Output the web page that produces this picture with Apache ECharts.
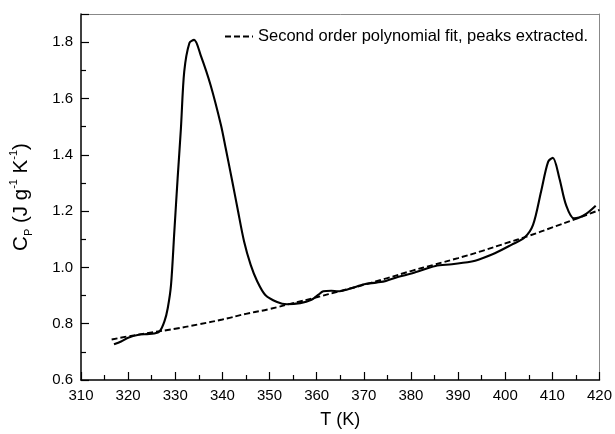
<!DOCTYPE html>
<html><head><meta charset="utf-8">
<script src="https://cdn.jsdelivr.net/npm/echarts@6/dist/echarts.min.js"></script>
<style>html,body{margin:0;padding:0;background:#fff}#c{width:615px;height:434px}</style>
</head><body><div id="c"></div>
<script>
// Measured Cp curve: temperature (K) and Cp (J g^-1 K^-1)
var measuredT = [317.0,318.5,320.0,322.0,324.0,325.5,326.7,327.7,328.4,329.1,329.8,330.5,331.2,331.9,333.0,334.0,335.4,337.5,339.7,340.7,342.1,343.2,344.6,346.0,347.4,349.1,351.6,353.7,356.5,358.9,360.3,361.4,363.1,364.5,367.0,370.1,372.6,374.7,377.2,380.3,385.2,388.7,392.9,394.3,397.8,401.3,404.1,405.9,407.6,409.1,410.1,411.5,412.9,414.6,416.8,419.2];
var measuredCp = [0.727,0.737,0.750,0.760,0.763,0.765,0.773,0.808,0.855,0.938,1.127,1.316,1.494,1.695,1.797,1.808,1.753,1.647,1.505,1.423,1.305,1.210,1.092,1.009,0.950,0.902,0.877,0.869,0.873,0.885,0.902,0.915,0.917,0.915,0.924,0.940,0.946,0.952,0.966,0.979,1.005,1.011,1.021,1.027,1.050,1.080,1.106,1.151,1.269,1.375,1.389,1.316,1.222,1.174,1.186,1.219];
// Second order polynomial baseline (peaks extracted)
var fitT = [316.5,320,325,330,335,340,345,350,355,360,365,370,375,380,385,390,395,400,405,410,415,420];
var fitCp = [0.744,0.755,0.769,0.782,0.798,0.815,0.835,0.852,0.873,0.894,0.916,0.938,0.962,0.987,1.010,1.033,1.058,1.085,1.112,1.142,1.172,1.204];
var xTicks = [310,320,330,340,350,360,370,380,390,400,410,420];
var yTicks = [0.6,0.8,1.0,1.2,1.4,1.6,1.8];
var fitName = 'Second order polynomial fit, peaks extracted.';

function pairs(a,b){return a.map(function(v,i){return [v,b[i]];});}
var FONT = 'Liberation Sans, Arial, sans-serif';
var chart = echarts.init(document.getElementById('c'), null, {renderer:'canvas'});
chart.setOption({
  animation:false,
  backgroundColor:'#fff',
  grid:{left:79,right:13,top:14,bottom:52},
  legend:{
    data:[fitName], left:219, top:23, itemWidth:28, itemHeight:14, itemGap:15,
    itemStyle:{opacity:0},
    textStyle:{fontFamily:FONT,fontSize:16.5,color:'#000'}, selectedMode:false
  },
  xAxis:[{
    type:'value', min:xTicks[0], max:xTicks[xTicks.length-1], interval:10,
    name:'T (K)', nameLocation:'middle', nameGap:31,
    nameTextStyle:{fontFamily:FONT,fontSize:18,color:'#000'},
    axisLine:{show:true,onZero:false,lineStyle:{color:'#000',width:1.5}},
    axisTick:{show:true,inside:true,length:8,lineStyle:{color:'#000',width:1.2}},
    minorTick:{show:true,splitNumber:2,length:5,lineStyle:{color:'#000',width:1.2}},
    axisLabel:{fontFamily:FONT,fontSize:15,color:'#000',margin:8},
    splitLine:{show:false}
  },{
    type:'value', position:'top', min:310, max:420,
    axisLine:{show:true,lineStyle:{color:'#888',width:1}},
    axisTick:{show:false}, axisLabel:{show:false}, splitLine:{show:false}
  }],
  yAxis:[{
    type:'value', min:0.6, max:1.9, interval:0.2,
    name:'{m|C}{sub|P}{m| (J g}{sup|-1}{m| K}{sup|-1}{m|)}',
    nameLocation:'middle', nameGap:47, nameRotate:90,
    nameTextStyle:{
      fontFamily:FONT,color:'#000',
      rich:{
        m:{fontFamily:FONT,fontSize:20.5,color:'#000',lineHeight:26},
        sub:{fontFamily:FONT,fontSize:11,color:'#000',lineHeight:13,verticalAlign:'bottom'},
        sup:{fontFamily:FONT,fontSize:11,color:'#000',lineHeight:13,verticalAlign:'top'}
      }
    },
    axisLine:{show:true,onZero:false,lineStyle:{color:'#000',width:1.5}},
    axisTick:{show:true,inside:true,length:8,lineStyle:{color:'#000',width:1.2}},
    minorTick:{show:true,splitNumber:2,length:5,lineStyle:{color:'#000',width:1.2}},
    axisLabel:{fontFamily:FONT,fontSize:15,color:'#000',margin:8,
      formatter:function(v){ var r=Math.round(v*10)/10; if(r>1.85) return ''; return r.toFixed(1);} },
    splitLine:{show:false}
  },{
    type:'value', position:'right', min:0.6, max:1.9,
    axisLine:{show:true,lineStyle:{color:'#888',width:1}},
    axisTick:{show:false}, axisLabel:{show:false}, splitLine:{show:false}
  }],
  series:[{
    name:'measured', type:'line', data:pairs(measuredT,measuredCp), smooth:0.3,
    showSymbol:false, symbol:'none', lineStyle:{color:'#000',width:2.1}, z:3
  },{
    name:fitName, type:'line', data:pairs(fitT,fitCp), smooth:true,
    showSymbol:false, symbol:'none', lineStyle:{color:'#000',width:1.9,type:[6,3]}, itemStyle:{color:'#000'}, z:2
  }]
});
</script></body></html>
